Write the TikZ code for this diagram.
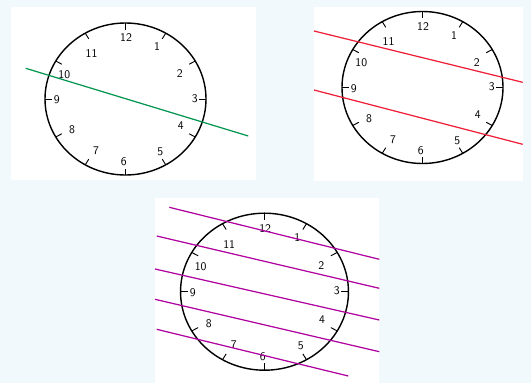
\documentclass[tikz,border=0pt]{standalone}
\definecolor{pagebg}{RGB}{242,249,252}
\definecolor{cutgreen}{RGB}{0,150,80}
\definecolor{cutred}{RGB}{238,30,55}
\definecolor{cutmagenta}{RGB}{175,0,160}
\tikzset{
  clock/.pic={
    \draw[rim] (0,0) ellipse (80.5 and 76);
    \foreach \h in {1,...,12}
      \draw[hourtick] ({80.5*cos(90-30*\h)},{-76*sin(90-30*\h)})
        -- ({73.5*cos(90-30*\h)},{-69.5*sin(90-30*\h)});
    \foreach \h/\dx/\dy in {12/0.6/-61.4, 1/31.5/-52.2, 2/54.4/-25.4, 3/69.4/-0.6,
                            4/55.2/26.9, 5/34.7/52.8, 6/-1.7/63.1, 7/-29.4/51.8,
                            8/-53.4/30.9, 9/-68.7/0.9, 10/-61.2/-24.4, 11/-33.9/-45.9}
      \node[hour] (-n\h) at (\dx,\dy) {\h};
  }
}
\begin{document}
\begin{tikzpicture}[x=0.3mm, y=-0.3mm,
  panel/.style={fill=white, draw=none},
  rim/.style={line width=1.2pt},
  hourtick/.style={line width=0.8pt},
  hour/.style={inner sep=0pt, font=\sffamily},
  cut/.style={line width=1.05pt}]

  % --- Hintergrund ---
  \fill[pagebg] (0,0) rectangle (531,383);
  \useasboundingbox (0,0) rectangle (531,383);

  % --- Uhr 1: eine Gerade ---
  \fill[panel] (11,7) rectangle (256,180);
  \pic (uhrA) at (125.5,99) {clock};
  \draw[cut, cutgreen] (25.7,68.3) -- (248.3,136);

  % --- Uhr 2: zwei Geraden ---
  \fill[panel] (314,7) rectangle (522.7,181);
  \pic (uhrB) at (422.5,87.5) {clock};
  \draw[cut, cutred] (314,31) -- (522.7,82.3);
  \draw[cut, cutred] (314,90) -- (522.7,144.3);

  % --- Uhr 3: fuenf Geraden ---
  \fill[panel] (155,198.3) rectangle (379.3,383);
  \pic[xscale=1.043, yscale=1.033] (uhrC) at (264.5,291.7) {clock};
  \foreach \xa/\ya/\xb/\yb in {169.3/207.3/379.3/259.3, 156.7/236/379.3/288.3,
                               155/269/379.3/320, 155/299.3/379.3/351.7,
                               156.7/329.3/348.3/376}
     \draw[cut, cutmagenta] (\xa,\ya) -- (\xb,\yb);

\end{tikzpicture}
\end{document}
